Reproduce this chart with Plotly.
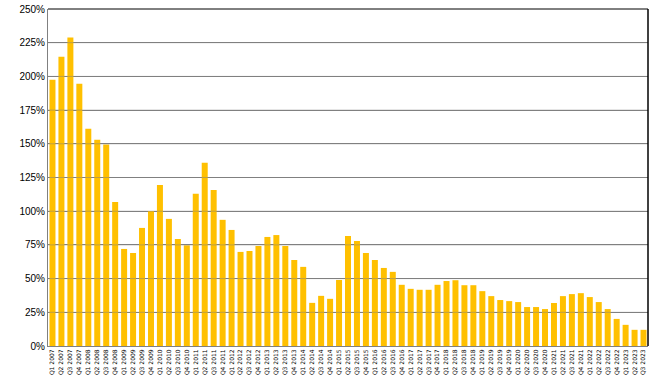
import plotly.graph_objects as go

quarters = [f"Q{q} {y}" for y in range(2007, 2024) for q in range(1, 5)][:67]
values = [197.5, 214.6, 228.9, 194.5, 161.1, 153.0, 149.5, 106.9, 72.0, 69.0,
          87.6, 100.2, 119.5, 94.3, 79.4, 74.7, 112.9, 135.9, 115.8, 93.6,
          86.1, 69.8, 70.5, 74.2, 80.9, 82.3, 74.2, 63.8, 58.7, 32.0,
          37.2, 35.0, 49.0, 81.6, 77.9, 69.0, 63.8, 57.9, 55.0, 45.4,
          42.4, 41.7, 41.7, 45.4, 48.2, 48.8, 45.1, 45.1, 40.7, 37.0,
          34.1, 33.3, 32.6, 28.9, 28.9, 27.4, 31.9, 37.0, 38.5, 39.2,
          36.3, 32.6, 27.4, 20.1, 15.7, 12.0, 12.0]
ytick_vals = list(range(0, 251, 25))
ytick_text = [f"{v}%" for v in ytick_vals]

fig = go.Figure(go.Bar(x=quarters, y=values, marker_color="#FFC000",
                       marker_line_width=0))
fig.update_layout(
    width=658, height=388,
    margin=dict(l=48, r=10, t=9, b=42, autoexpand=False),
    paper_bgcolor="white", plot_bgcolor="white",
    bargap=0.33, showlegend=False,
    font=dict(family="Liberation Sans, Arial", color="black"),
)
fig.update_xaxes(
    tickangle=-90, tickfont=dict(size=6, family="DejaVu Sans"), showline=True,
    linecolor="#808080", linewidth=1, ticks="", showgrid=False, automargin=False,
)
fig.update_yaxes(
    range=[0, 250], tickvals=ytick_vals, ticktext=ytick_text,
    tickfont=dict(size=10), showgrid=True, gridcolor="#808080", gridwidth=1,
    showline=True, linecolor="#808080", linewidth=1, ticks="", zeroline=False,
    automargin=False,
)
# gridlines showing faintly over the bars
for v in ytick_vals[1:-1]:
    fig.add_shape(type="line", xref="paper", yref="y", x0=0, x1=1, y0=v, y1=v,
                  layer="above", opacity=0.5, line=dict(color="#808080", width=1))
fig.add_shape(type="line", xref="paper", yref="paper", x0=0, x1=1, y0=1, y1=1,
              line=dict(color="black", width=1))
fig.add_shape(type="line", xref="paper", yref="paper", x0=1, x1=1, y0=0, y1=1,
              line=dict(color="black", width=1.5))
fig.write_html("out.html", config={"displayModeBar": False},
               post_script="document.body.style.margin='0';")
